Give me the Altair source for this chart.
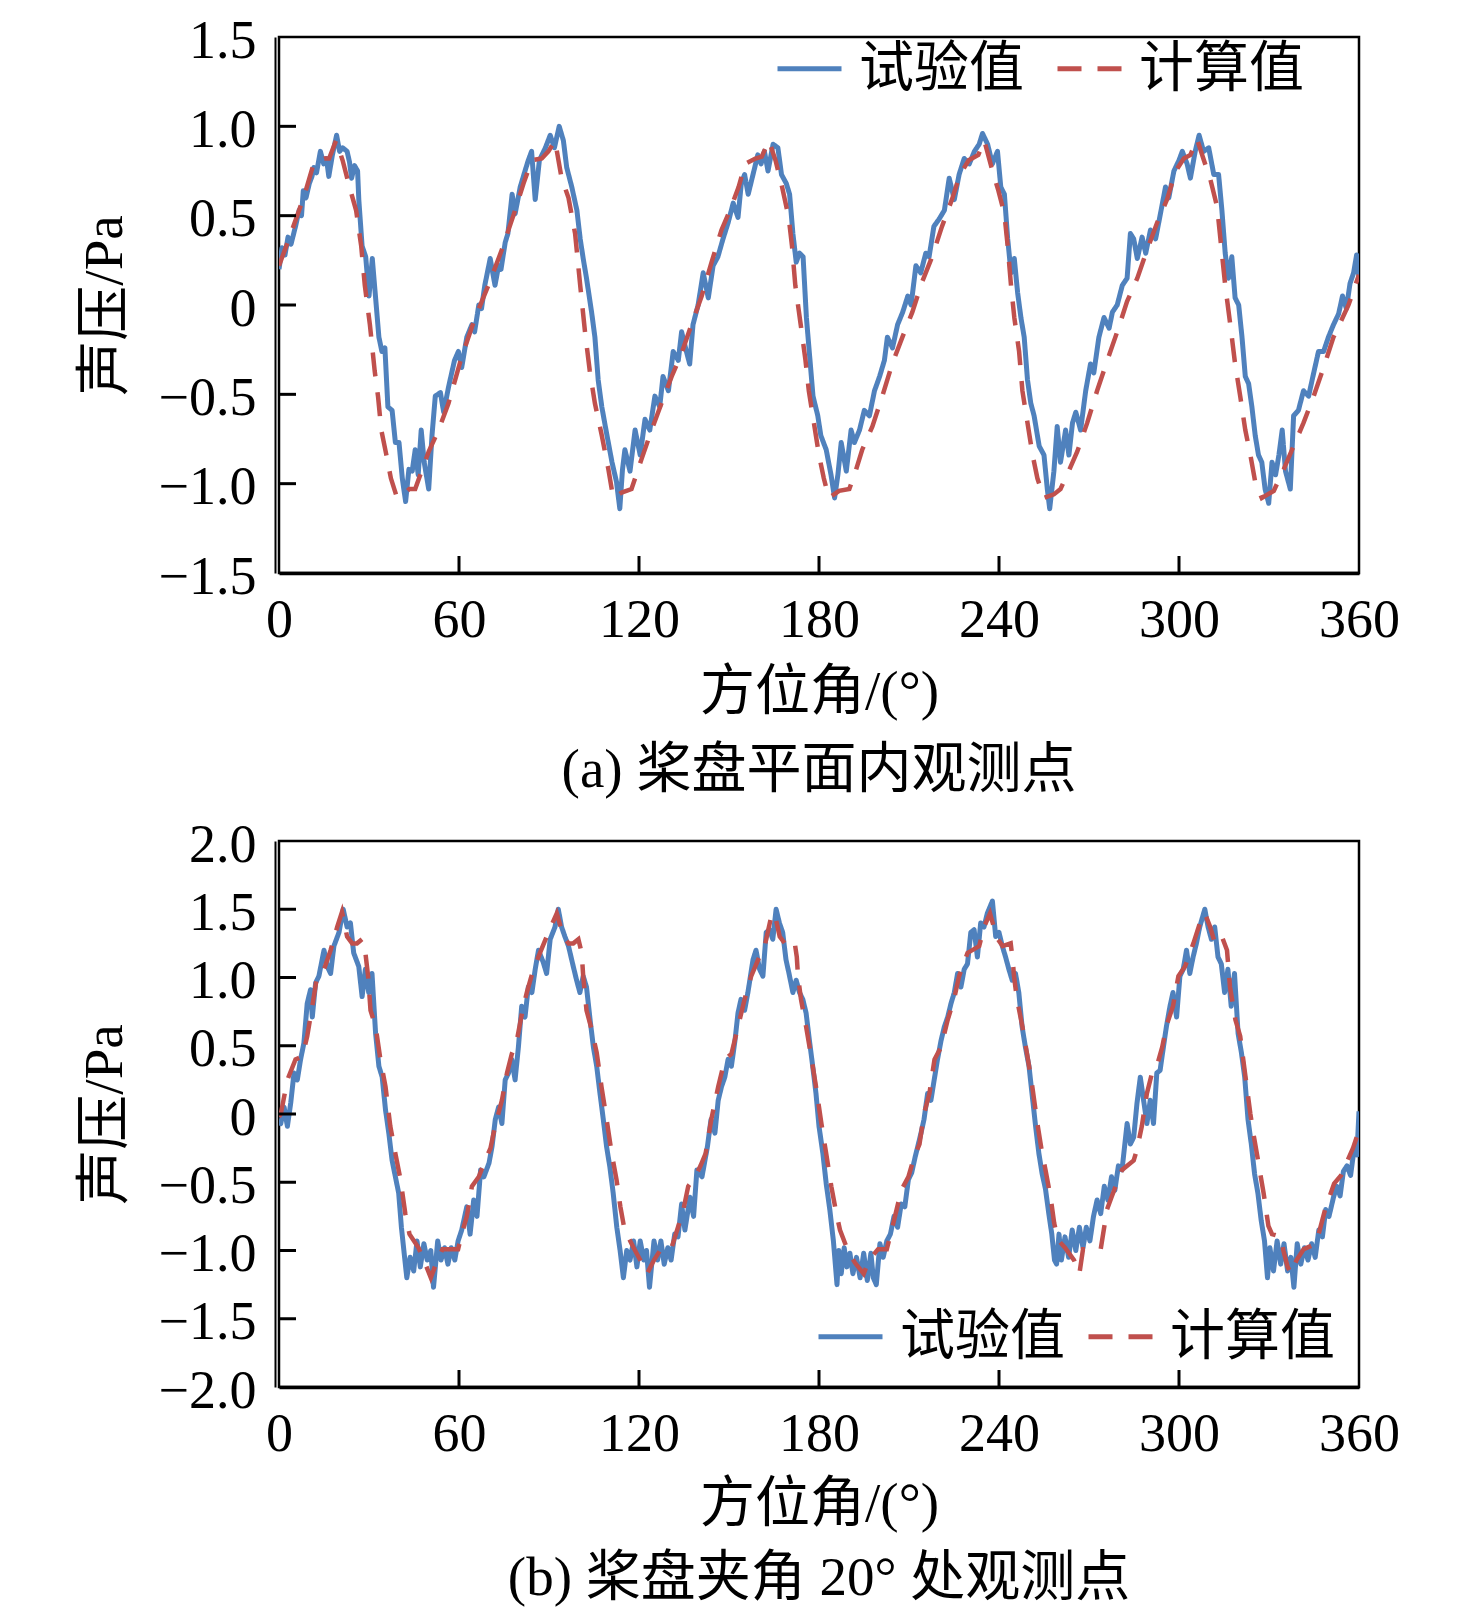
import altair as alt
import pandas as pd

FONT = "Liberation Serif, Noto Sans CJK SC"
BLUE = "#4F81BD"
RED = "#C0504D"
SERIES = ["试验值", "计算值"]
X_TICKS = [0, 60, 120, 180, 240, 300, 360]
Y_TICKS_A = [-1.5, -1.0, -0.5, 0, 0.5, 1.0, 1.5]
Y_TICKS_B = [-2.0, -1.5, -1.0, -0.5, 0, 0.5, 1.0, 1.5, 2.0]
X_TITLE = "方位角/(°)"
Y_TITLE = "声压/Pa"
CAPTION_A = "(a) 桨盘平面内观测点"
CAPTION_B = "(b) 桨盘夹角 20° 处观测点"

# (a) measured (azimuth deg, pressure Pa)
A_EXP = [(0.0,0.20),(1.0,0.32),(2.0,0.28),(3.0,0.38),(4.0,0.34),(5.5,0.44),(6.7,0.53),(7.5,0.50),(8.1,0.64),(9.0,0.60),(10.1,0.68),(11.0,0.72),(11.6,0.77),(12.5,0.74),(13.8,0.86),(14.9,0.79),(15.8,0.82),(16.6,0.72),(17.8,0.84),(19.2,0.95),(20.2,0.86),(21.2,0.88),(22.7,0.86),(23.5,0.80),(24.2,0.71),(25.2,0.78),(26.2,0.75),(26.6,0.59),(27.7,0.33),(28.9,0.27),(30.0,0.05),(31.1,0.26),(32.2,0.04),(33.3,-0.18),(34.3,-0.26),(35.3,-0.24),(36.3,-0.57),(37.7,-0.59),(38.8,-0.77),(40.0,-0.77),(41.1,-0.97),(42.2,-1.10),(43.3,-0.92),(44.4,-0.93),(45.4,-0.81),(46.4,-0.95),(47.4,-0.70),(48.4,-0.88),(49.9,-1.03),(51.0,-0.73),(52.1,-0.51),(53.8,-0.49),(54.9,-0.60),(56.5,-0.46),(58.5,-0.31),(59.8,-0.26),(60.9,-0.35),(62.6,-0.18),(64.3,-0.11),(65.2,-0.15),(66.6,0.00),(67.5,-0.02),(68.6,0.11),(70.4,0.26),(72.0,0.11),(73.2,0.22),(74.0,0.20),(75.4,0.35),(76.3,0.40),(77.7,0.62),(78.7,0.51),(80.4,0.66),(82.0,0.75),(83.1,0.81),(84.2,0.86),(85.4,0.59),(86.8,0.81),(88.8,0.88),(90.4,0.95),(91.8,0.88),(93.4,1.00),(94.8,0.92),(95.9,0.77),(97.6,0.66),(99.3,0.53),(100.4,0.37),(101.4,0.26),(102.5,0.15),(104.2,-0.04),(105.3,-0.18),(106.4,-0.42),(107.6,-0.57),(109.0,-0.70),(111.0,-0.88),(112.5,-0.99),(113.6,-1.14),(114.5,-0.92),(115.3,-0.81),(117.0,-0.93),(118.7,-0.70),(120.4,-0.84),(122.0,-0.64),(123.6,-0.70),(125.3,-0.51),(126.9,-0.57),(128.0,-0.40),(129.8,-0.48),(131.4,-0.26),(133.1,-0.31),(134.2,-0.15),(135.8,-0.26),(136.9,-0.33),(138.0,-0.11),(139.7,0.00),(141.4,0.18),(143.1,0.04),(144.7,0.22),(146.3,0.27),(148.0,0.37),(149.7,0.46),(151.4,0.57),(153.0,0.49),(154.1,0.68),(155.2,0.73),(156.4,0.62),(158.0,0.73),(159.6,0.84),(160.7,0.79),(161.8,0.86),(163.0,0.75),(164.7,0.90),(166.3,0.88),(167.5,0.73),(169.1,0.68),(170.2,0.62),(171.3,0.40),(172.4,0.24),(173.5,0.29),(174.7,0.27),(175.8,-0.07),(176.9,-0.29),(178.0,-0.51),(179.6,-0.62),(180.6,-0.73),(182.4,-0.81),(184.0,-0.95),(185.2,-1.08),(186.3,-0.95),(187.4,-0.77),(189.1,-0.93),(190.7,-0.70),(191.8,-0.77),(193.5,-0.70),(195.1,-0.59),(196.8,-0.62),(198.5,-0.48),(200.2,-0.40),(201.8,-0.31),(202.8,-0.18),(204.5,-0.24),(206.2,-0.11),(207.9,-0.04),(209.6,0.05),(210.7,0.00),(212.3,0.22),(213.9,0.18),(215.6,0.29),(216.7,0.27),(218.3,0.44),(220.0,0.48),(221.8,0.53),(223.4,0.71),(225.1,0.59),(226.7,0.73),(228.4,0.82),(230.1,0.79),(231.8,0.86),(233.4,0.90),(234.5,0.96),(236.2,0.90),(237.8,0.79),(239.5,0.86),(240.6,0.66),(241.8,0.62),(242.9,0.37),(244.0,0.18),(245.1,0.26),(246.2,0.07),(247.3,-0.07),(248.4,-0.18),(249.5,-0.42),(250.6,-0.55),(251.7,-0.62),(253.4,-0.79),(255.0,-0.84),(256.1,-1.03),(256.9,-1.14),(258.3,-0.93),(259.4,-0.68),(260.5,-0.88),(262.2,-0.70),(263.3,-0.84),(264.5,-0.66),(265.6,-0.60),(267.2,-0.70),(268.9,-0.48),(270.5,-0.33),(271.6,-0.38),(273.3,-0.18),(275.0,-0.07),(276.7,-0.13),(277.8,-0.04),(279.4,0.00),(281.1,0.11),(282.7,0.15),(283.8,0.40),(284.9,0.37),(286.1,0.26),(287.7,0.38),(288.9,0.29),(290.5,0.42),(292.2,0.37),(293.8,0.51),(295.5,0.66),(296.6,0.60),(298.3,0.75),(300.0,0.81),(301.1,0.86),(302.7,0.79),(303.8,0.71),(305.4,0.86),(306.7,0.95),(308.2,0.86),(309.9,0.88),(311.6,0.73),(313.2,0.73),(314.3,0.53),(315.4,0.29),(316.5,0.15),(317.6,0.27),(318.7,0.04),(319.9,0.00),(321.0,-0.18),(322.1,-0.40),(323.2,-0.44),(324.3,-0.57),(325.4,-0.73),(326.5,-0.84),(327.6,-0.88),(328.7,-1.03),(329.9,-1.11),(331.0,-0.88),(332.2,-0.95),(333.3,-0.84),(334.4,-0.70),(335.5,-0.93),(337.1,-1.03),(338.2,-0.62),(339.8,-0.59),(341.5,-0.48),(343.2,-0.51),(344.9,-0.38),(346.5,-0.26),(348.2,-0.26),(349.8,-0.18),(351.5,-0.11),(353.2,-0.05),(354.5,0.05),(355.8,-0.02),(357.0,0.12),(358.2,0.18),(359.2,0.28),(360.0,0.15)]

# (a) calculated
A_CALC = [(0.0,0.22),(3.3,0.37),(6.7,0.53),(8.9,0.64),(11.7,0.80),(15.1,0.82),(16.7,0.82),(19.0,0.92),(21.2,0.81),(23.5,0.66),(25.7,0.53),(27.4,0.33),(28.6,0.11),(30.3,-0.11),(31.9,-0.37),(33.0,-0.51),(34.1,-0.70),(35.8,-0.84),(37.3,-0.97),(39.0,-1.06),(40.2,-1.08),(43.4,-1.03),(45.4,-1.03),(47.1,-0.95),(49.9,-0.82),(53.2,-0.70),(56.5,-0.55),(60.9,-0.29),(65.4,-0.07),(69.8,0.11),(74.3,0.31),(78.7,0.53),(81.5,0.68),(84.3,0.81),(87.6,0.82),(89.8,0.86),(92.0,0.92),(94.2,0.71),(96.5,0.60),(98.7,0.40),(100.4,0.11),(102.0,-0.15),(103.6,-0.37),(105.3,-0.55),(107.6,-0.73),(109.8,-0.92),(111.4,-1.08),(114.2,-1.05),(117.5,-1.03),(120.9,-0.86),(124.2,-0.70),(127.5,-0.55),(130.9,-0.40),(134.2,-0.27),(137.5,-0.11),(140.9,0.05),(144.2,0.24),(147.5,0.42),(150.3,0.53),(153.2,0.66),(155.4,0.79),(158.8,0.82),(160.9,0.83),(163.3,0.92),(165.5,0.81),(167.7,0.66),(169.9,0.49),(171.0,0.33),(172.1,0.11),(173.9,-0.11),(175.5,-0.31),(176.6,-0.48),(178.3,-0.66),(180.0,-0.84),(181.6,-0.97),(183.3,-1.08),(186.7,-1.04),(190.1,-1.03),(192.2,-0.93),(194.4,-0.81),(197.8,-0.68),(201.1,-0.51),(204.4,-0.33),(207.8,-0.18),(211.1,-0.04),(214.4,0.13),(217.7,0.27),(221.0,0.44),(224.3,0.59),(227.0,0.73),(229.9,0.81),(233.1,0.84),(235.1,0.92),(237.5,0.77),(239.8,0.64),(241.8,0.51),(242.9,0.33),(244.0,0.11),(245.1,-0.07),(246.7,-0.26),(247.8,-0.48),(249.5,-0.66),(251.2,-0.84),(252.8,-0.97),(255.0,-1.08),(258.3,-1.06),(260.5,-1.03),(262.7,-0.95),(266.1,-0.82),(269.4,-0.66),(272.7,-0.48),(276.1,-0.31),(279.4,-0.15),(282.7,0.02),(286.1,0.15),(289.4,0.31),(292.7,0.46),(296.0,0.59),(298.9,0.75),(301.6,0.82),(303.8,0.84),(306.0,0.93),(308.3,0.81),(310.5,0.70),(312.7,0.55),(313.8,0.37),(315.4,0.11),(317.1,-0.11),(318.7,-0.33),(320.4,-0.51),(322.1,-0.70),(323.8,-0.84),(325.4,-0.99),(327.6,-1.08),(331.6,-1.04),(334.9,-0.92),(338.2,-0.79),(341.5,-0.66),(344.9,-0.51),(348.2,-0.35),(351.5,-0.18),(356.5,0.00),(360.0,0.17)]

# (b) measured
B_EXP = [(0.0,-0.05),(0.6,-0.07),(1.7,0.05),(2.8,-0.09),(3.9,0.08),(5.0,0.30),(6.1,0.25),(7.2,0.40),(8.3,0.52),(9.4,0.81),(10.5,0.91),(11.1,0.71),(12.2,0.96),(13.3,1.01),(15.0,1.20),(16.1,1.08),(17.2,1.03),(18.3,1.23),(20.0,1.33),(21.4,1.50),(22.7,1.37),(23.8,1.40),(24.9,1.18),(26.6,1.08),(27.7,0.86),(28.8,1.06),(29.9,0.89),(31.0,1.03),(32.2,0.59),(33.3,0.35),(34.4,0.27),(35.5,0.03),(36.6,-0.14),(37.7,-0.34),(38.8,-0.46),(39.9,-0.58),(40.8,-0.83),(42.6,-1.20),(43.7,-1.05),(44.9,-1.15),(46.0,-0.93),(47.1,-1.12),(48.3,-0.95),(49.4,-1.07),(50.6,-1.00),(51.5,-1.27),(52.9,-0.93),(54.0,-1.07),(55.2,-0.98),(56.3,-1.10),(57.4,-0.98),(58.6,-1.07),(59.7,-0.93),(60.9,-0.85),(62.6,-0.68),(63.7,-0.88),(64.9,-0.63),(66.0,-0.75),(67.2,-0.41),(68.3,-0.46),(70.0,-0.36),(71.0,-0.24),(72.1,-0.04),(73.2,0.05),(74.3,-0.07),(75.4,0.25),(76.5,0.30),(77.6,0.40),(78.7,0.25),(79.8,0.49),(80.9,0.79),(82.0,0.71),(83.1,0.93),(84.3,0.89),(85.4,1.06),(86.5,1.20),(88.1,1.11),(89.2,1.03),(90.4,1.28),(92.0,1.37),(93.1,1.50),(94.2,1.37),(95.3,1.30),(96.5,1.23),(98.1,1.08),(99.2,0.98),(100.3,0.89),(101.4,1.01),(102.5,0.93),(103.7,0.69),(104.8,0.49),(105.9,0.35),(107.0,0.15),(108.1,-0.04),(109.2,-0.24),(110.3,-0.39),(111.4,-0.58),(112.6,-0.83),(113.7,-1.00),(114.8,-1.20),(115.9,-1.00),(117.0,-1.07),(118.2,-0.93),(119.3,-1.12),(120.4,-0.93),(121.6,-1.07),(122.5,-1.00),(123.5,-1.27),(125.0,-0.93),(126.2,-1.07),(127.3,-0.93),(128.4,-1.10),(129.6,-0.98),(130.7,-1.07),(131.9,-0.88),(133.0,-0.90),(134.2,-0.66),(135.3,-0.85),(137.0,-0.61),(138.2,-0.75),(139.3,-0.41),(141.0,-0.46),(142.8,-0.24),(144.0,-0.04),(145.3,-0.14),(146.4,0.10),(147.5,0.20),(148.6,0.27),(149.7,0.40),(150.8,0.35),(152.0,0.54),(153.0,0.74),(154.0,0.84),(155.2,0.76),(156.3,0.89),(158.0,1.13),(159.0,1.20),(160.2,1.06),(161.3,1.01),(162.4,1.33),(163.5,1.35),(164.6,1.28),(165.7,1.50),(166.8,1.40),(167.9,1.33),(169.0,1.13),(170.0,1.03),(171.3,0.89),(172.4,0.98),(173.5,0.89),(174.6,0.84),(175.7,0.74),(176.8,0.54),(177.9,0.35),(179.0,0.15),(180.0,-0.09),(181.3,-0.29),(182.4,-0.51),(183.6,-0.70),(184.8,-0.93),(186.0,-1.25),(186.6,-1.00),(187.4,-1.17),(188.4,-0.98),(189.3,-1.12),(190.3,-1.02),(191.3,-1.17),(192.5,-1.05),(193.7,-1.20),(194.9,-1.02),(196.1,-1.22),(197.3,-1.02),(198.1,-1.20),(199.1,-1.25),(200.3,-0.95),(201.4,-1.05),(202.6,-0.93),(203.8,-0.88),(205.0,-0.75),(206.2,-0.83),(207.4,-0.66),(208.6,-0.68),(209.8,-0.48),(210.9,-0.43),(212.1,-0.31),(212.9,-0.24),(214.0,-0.14),(215.0,-0.04),(216.2,0.15),(217.3,0.10),(218.4,0.25),(219.5,0.40),(220.7,0.54),(221.8,0.64),(222.9,0.71),(224.0,0.81),(225.1,0.89),(226.2,1.03),(227.3,0.93),(228.4,1.06),(229.5,1.10),(230.6,1.33),(231.7,1.35),(232.8,1.15),(233.9,1.40),(235.0,1.37),(236.1,1.47),(237.8,1.56),(238.9,1.30),(240.0,1.33),(241.1,1.23),(242.2,1.15),(243.3,1.06),(244.4,0.98),(245.5,1.03),(246.6,0.89),(247.7,0.64),(248.8,0.49),(250.0,0.35),(251.0,0.15),(252.2,-0.09),(253.3,-0.29),(254.4,-0.44),(255.5,-0.55),(256.6,-0.73),(257.6,-0.88),(258.5,-1.07),(259.2,-1.10),(260.0,-0.88),(260.8,-1.07),(262.0,-0.90),(263.2,-1.05),(264.4,-0.85),(265.6,-1.00),(266.8,-0.83),(268.0,-0.98),(269.1,-0.83),(270.3,-0.93),(271.5,-0.75),(272.7,-0.63),(273.9,-0.73),(275.1,-0.53),(276.3,-0.63),(277.5,-0.46),(278.6,-0.56),(279.8,-0.38),(281.0,-0.41),(282.7,-0.07),(283.8,-0.22),(284.9,-0.17),(286.0,0.08),(287.1,0.27),(288.2,0.10),(289.3,-0.07),(290.4,0.10),(291.5,-0.07),(292.6,0.30),(293.7,0.32),(294.8,0.49),(295.8,0.64),(297.0,0.79),(298.0,0.89),(299.2,0.71),(300.3,1.01),(301.4,1.06),(302.5,1.20),(303.6,1.03),(304.7,1.15),(305.8,1.25),(306.9,1.37),(308.6,1.50),(309.7,1.37),(310.8,1.28),(311.9,1.37),(313.0,1.15),(314.1,1.10),(315.2,0.89),(316.3,1.06),(317.4,0.79),(318.5,1.03),(319.7,0.59),(320.8,0.45),(321.9,0.27),(323.0,-0.04),(324.1,-0.22),(325.2,-0.44),(326.3,-0.58),(327.4,-0.78),(328.5,-0.93),(329.5,-1.20),(330.3,-0.98),(331.5,-1.15),(332.7,-0.93),(333.9,-1.10),(335.0,-0.95),(336.2,-1.15),(337.3,-1.05),(338.3,-1.27),(339.4,-0.95),(340.6,-1.10),(341.8,-0.98),(343.0,-1.07),(344.2,-0.95),(345.4,-1.05),(346.6,-0.85),(347.8,-0.90),(348.9,-0.70),(350.0,-0.75),(351.5,-0.61),(352.6,-0.53),(353.7,-0.60),(354.8,-0.42),(356.0,-0.38),(357.2,-0.45),(358.4,-0.25),(359.3,-0.30),(360.0,0.02)]

# (b) calculated
B_CALC = [(0.0,-0.02),(0.6,0.00),(2.8,0.25),(5.5,0.40),(7.8,0.42),(9.4,0.57),(11.1,0.79),(12.7,1.01),(15.0,1.06),(17.2,1.20),(19.4,1.37),(21.0,1.48),(22.7,1.30),(24.4,1.25),(26.0,1.25),(27.7,1.28),(28.8,1.18),(29.7,1.01),(30.5,0.76),(32.2,0.64),(33.8,0.40),(35.5,0.20),(37.1,-0.09),(38.8,-0.29),(40.5,-0.48),(42.1,-0.73),(43.5,-0.88),(46.5,-0.98),(48.3,-1.07),(50.6,-1.20),(52.3,-1.10),(54.5,-0.99),(59.7,-0.99),(60.9,-0.88),(62.6,-0.75),(64.3,-0.53),(66.6,-0.46),(68.9,-0.33),(70.5,-0.25),(72.0,-0.09),(74.3,0.10),(76.0,0.30),(77.6,0.44),(79.3,0.54),(81.0,0.74),(82.6,0.89),(84.8,1.06),(87.0,1.18),(89.8,1.33),(92.6,1.47),(94.8,1.30),(96.5,1.25),(98.1,1.25),(99.8,1.28),(100.9,1.18),(101.4,1.01),(102.5,0.76),(104.2,0.62),(105.9,0.45),(107.5,0.20),(109.2,-0.04),(110.9,-0.29),(112.5,-0.48),(113.8,-0.68),(115.2,-0.85),(118.2,-0.98),(120.4,-1.07),(122.7,-1.17),(125.0,-1.07),(127.3,-0.99),(130.7,-0.99),(133.0,-0.83),(134.8,-0.70),(136.4,-0.53),(138.7,-0.46),(140.5,-0.38),(142.2,-0.29),(144.1,-0.04),(146.4,0.20),(148.6,0.40),(150.8,0.44),(153.0,0.64),(155.2,0.84),(157.4,1.01),(159.7,1.13),(161.9,1.23),(164.1,1.45),(165.2,1.47),(166.9,1.30),(168.6,1.25),(170.2,1.25),(171.8,1.27),(172.6,1.15),(173.0,1.01),(174.0,0.84),(175.7,0.64),(177.4,0.42),(179.0,0.20),(180.8,-0.07),(182.4,-0.29),(184.1,-0.53),(185.8,-0.73),(187.0,-0.85),(189.6,-1.00),(192.0,-1.09),(194.9,-1.17),(196.7,-1.07),(199.7,-0.99),(202.6,-0.99),(205.0,-0.78),(207.4,-0.56),(209.8,-0.46),(211.8,-0.31),(213.5,-0.22),(215.0,0.00),(216.8,0.15),(218.5,0.40),(220.7,0.49),(222.9,0.69),(225.0,0.84),(226.7,1.01),(229.5,1.18),(233.4,1.23),(235.0,1.37),(237.0,1.47),(239.3,1.29),(241.2,1.23),(243.9,1.25),(244.6,1.12),(245.0,1.01),(246.0,0.84),(247.8,0.64),(249.5,0.42),(251.1,0.20),(252.8,-0.07),(254.4,-0.29),(255.5,-0.41),(257.2,-0.61),(258.4,-0.80),(259.6,-0.92),(262.0,-0.98),(265.0,-1.07),(266.8,-1.17),(268.0,-0.99),(273.9,-0.99),(276.0,-0.70),(277.5,-0.61),(279.4,-0.50),(281.0,-0.41),(284.9,-0.34),(286.0,-0.26),(287.6,-0.09),(289.3,0.15),(291.0,0.30),(292.6,0.35),(294.4,0.49),(296.0,0.66),(298.0,0.79),(299.8,1.01),(302.0,1.08),(304.8,1.25),(307.0,1.40),(308.6,1.47),(310.4,1.37),(312.0,1.25),(314.3,1.30),(316.0,1.20),(317.0,0.93),(318.8,0.69),(320.4,0.57),(322.0,0.30),(323.8,0.00),(325.0,-0.17),(326.5,-0.36),(328.2,-0.58),(329.8,-0.82),(331.0,-0.88),(334.0,-0.90),(334.8,-1.00),(336.2,-1.12),(337.4,-1.17),(339.2,-1.07),(341.6,-0.99),(345.7,-0.95),(348.7,-0.70),(351.7,-0.51),(354.0,-0.45),(356.0,-0.35),(358.0,-0.25),(360.0,-0.12)]

W = 1080
H_A = 536
H_B = 546
TICK_LEN = 17
DASH = [24, 16]


def frame(pairs, name):
    df = pd.DataFrame(pairs, columns=["deg", "p"])
    df["series"] = name
    df["i"] = range(len(df))
    return df


def panel(exp, calc, y_ticks, height, caption, legend_x, legend_y, col_pad, xtitle_pad, cap_offset):
    xscale = alt.Scale(domain=[X_TICKS[0], X_TICKS[-1]], nice=False, zero=False)
    yscale = alt.Scale(domain=[y_ticks[0], y_ticks[-1]], nice=False, zero=False)
    legend = alt.Legend(
        title=None, orient="none", legendX=legend_x, legendY=legend_y,
        direction="horizontal", symbolType="stroke", symbolSize=4096,
        symbolStrokeWidth=5, labelFont=FONT, labelFontSize=55, labelLimit=0,
        labelColor="black", labelOffset=15, columnPadding=col_pad, padding=0,
    )
    color = alt.Color("series:N", scale=alt.Scale(domain=SERIES, range=[BLUE, RED]), legend=legend)
    dash = alt.StrokeDash("series:N", scale=alt.Scale(domain=SERIES, range=[[1, 0], DASH]), legend=legend)
    xaxis = alt.Axis(
        values=X_TICKS, title=X_TITLE, ticks=False, grid=False, labelFont=FONT,
        labelFontSize=54, labelColor="black", labelPadding=20, labelFlush=False,
        domainColor="black", domainWidth=3.5, titleFont=FONT, titleFontSize=55,
        titleFontWeight="normal", titleColor="black", titlePadding=xtitle_pad,
    )
    yaxis = alt.Axis(
        values=y_ticks, title=Y_TITLE, ticks=False, grid=False, labelFont=FONT,
        labelFontSize=54, labelColor="black", labelPadding=19, labelOffset=4,
        labelExpr="datum.value == 0 ? '0' : format(datum.value, '.1f')",
        domainColor="black", domainWidth=2, offset=4, titleFont=FONT,
        titleFontSize=55, titleFontWeight="normal", titleColor="black", titlePadding=25,
    )
    exp_line = alt.Chart(frame(exp, SERIES[0])).mark_line(strokeWidth=5, clip=True, strokeJoin="round").encode(
        x=alt.X("deg:Q", scale=xscale, axis=xaxis),
        y=alt.Y("p:Q", scale=yscale, axis=yaxis),
        color=color, strokeDash=dash, order="i:Q",
    )
    calc_line = alt.Chart(frame(calc, SERIES[1])).mark_line(strokeWidth=4.5, clip=True).encode(
        x=alt.X("deg:Q", scale=xscale, axis=xaxis),
        y=alt.Y("p:Q", scale=yscale, axis=yaxis),
        color=color, strokeDash=dash, order="i:Q",
    )
    xt = pd.DataFrame({"deg": X_TICKS[1:-1]})
    yt = pd.DataFrame({"p": y_ticks[1:-1]})
    x_ticks = alt.Chart(xt).mark_rule(color="black", strokeWidth=3).encode(
        x=alt.X("deg:Q", scale=xscale, axis=xaxis), y=alt.value(height), y2=alt.value(height - TICK_LEN)
    )
    y_ticks_l = alt.Chart(yt).mark_rule(color="black", strokeWidth=3).encode(
        y=alt.Y("p:Q", scale=yscale, axis=yaxis), x=alt.value(0), x2=alt.value(TICK_LEN)
    )
    return alt.layer(exp_line, calc_line, x_ticks, y_ticks_l).properties(
        width=W, height=height,
        title=alt.TitleParams(caption, orient="bottom", anchor="middle", font=FONT,
                              fontSize=55, fontWeight="normal", color="black", offset=cap_offset),
    )


pa = panel(A_EXP, A_CALC, Y_TICKS_A, H_A, CAPTION_A, 496, -3, 22, 18, 25)
pb = panel(B_EXP, B_CALC, Y_TICKS_B, H_B, CAPTION_B, 537, 461, 12, 16, 21)

chart = alt.vconcat(pa, pb, spacing=16).resolve_scale(
    color="independent", strokeDash="independent", x="independent", y="independent"
).resolve_legend(color="independent", strokeDash="independent").properties(
    padding={"left": 67, "top": 4, "right": 5, "bottom": 0}
).configure_view(stroke="black", strokeWidth=2.5)

chart.save("out.html", embed_options={"renderer": "svg", "actions": False})
